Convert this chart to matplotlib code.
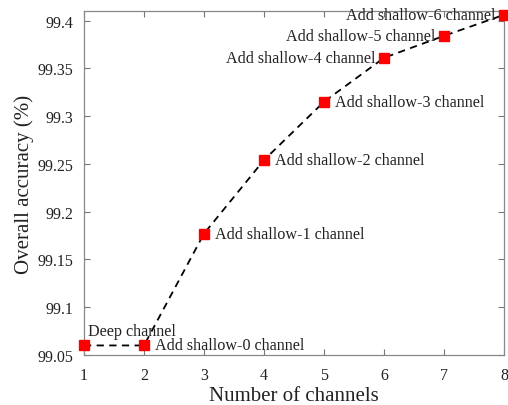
import matplotlib
matplotlib.use("Agg")
import matplotlib.pyplot as plt

channels = [1, 2, 3, 4, 5, 6, 7, 8]
accuracy = [99.06, 99.06, 99.177, 99.254, 99.315, 99.361, 99.384, 99.406]
labels = ["Deep channel", "Add shallow-0 channel", "Add shallow-1 channel",
          "Add shallow-2 channel", "Add shallow-3 channel", "Add shallow-4 channel",
          "Add shallow-5 channel", "Add shallow-6 channel"]
yticks = [99.05, 99.1, 99.15, 99.2, 99.25, 99.3, 99.35, 99.4]
yticklabels = ["99.05", "99.1", "99.15", "99.2", "99.25", "99.3", "99.35", "99.4"]

plt.rcParams['font.family'] = ['Liberation Serif', 'DejaVu Serif']

fig = plt.figure(figsize=(5.08, 4.06), dpi=100)
ax = fig.add_axes([84/508, 1-356/406, (504-84)/508, (356-12)/406])

ax.plot(channels, accuracy, linestyle=(0, (4, 3)), color='black', lw=1.3, zorder=2)
ax.plot(channels, accuracy, 's', color='#ff0000', ms=7.5, zorder=3, clip_on=False)

# label placement (offsets in points, alignment)
placements = [
    ((3, 5), 'left', 'bottom'),
    ((8, 0), 'left', 'center'),
    ((8, 0), 'left', 'center'),
    ((8, 0), 'left', 'center'),
    ((8, 0), 'left', 'center'),
    ((-6, 0), 'right', 'center'),
    ((-6, 0), 'right', 'center'),
    ((-6, 0), 'right', 'center'),
]
for x, y, t, (off, ha, va) in zip(channels, accuracy, labels, placements):
    ax.annotate(t, (x, y), xytext=off, textcoords='offset points', ha=ha, va=va,
                fontsize=11.6, color='#222222')

ax.set_xlim(1, 8)
ax.set_ylim(99.05, 99.41)
ax.set_xticks(channels)
ax.set_yticks(yticks)
ax.set_yticklabels(yticklabels)
ax.tick_params(direction='in', top=True, right=True, labelsize=11.5, length=4,
               color='#777777', labelcolor='#222222')
ax.tick_params(axis='x', pad=9)
ax.tick_params(axis='y', pad=8)
for s in ax.spines.values():
    s.set_color('#888888')
    s.set_linewidth(0.9)
ax.set_xlabel('Number of channels', fontsize=15, color='#222222', labelpad=2)
ax.set_ylabel('Overall accuracy (%)', fontsize=15, color='#222222', labelpad=2)

fig.savefig('out.png', dpi=100)
